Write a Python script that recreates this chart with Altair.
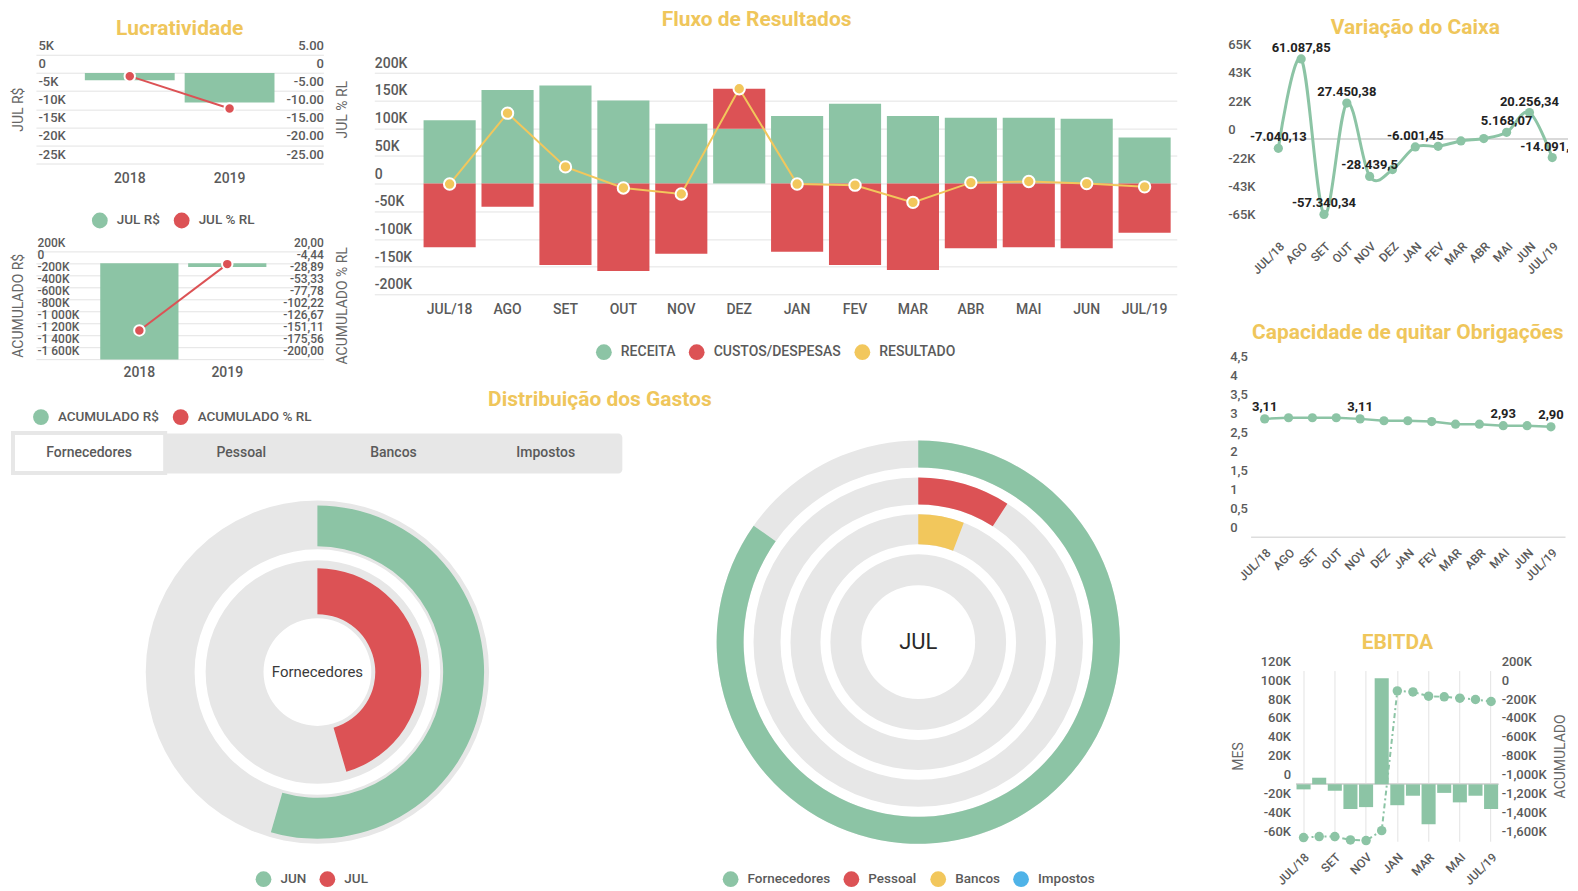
import altair as alt
import pandas as pd

# ---------------- dados ----------------
meses = ["JUL/18", "AGO", "SET", "OUT", "NOV", "DEZ", "JAN", "FEV", "MAR", "ABR", "MAI", "JUN", "JUL/19"]

# Fluxo de Resultados
fluxo_series = ["RECEITA", "CUSTOS/DESPESAS", "RESULTADO"]
receita = [114000, 169000, 177000, 150000, 108000, 99000, 122000, 144000, 122000, 118600, 118600, 116800, 83000]
custos = [-115000, -42000, -147000, -158000, -127000, 72000, -123000, -147000, -156000, -117000, -115000, -117000, -89000]
resultado = [-1000, 127000, 30000, -8000, -19000, 171000, -1000, -3000, -34000, 1600, 3600, -200, -6000]
fluxo_ticks = [200000, 150000, 100000, 50000, 0, -50000, -100000, -150000, -200000]

# Lucratividade
anos = ["2018", "2019"]
lucr_series = ["JUL R$", "JUL % RL"]
jul_rs = [-2000, -8200]
jul_pct = [-0.9, -9.8]
lucr_ticks_rs = [5000, 0, -5000, -10000, -15000, -20000, -25000]
lucr_ticks_pct = [5, 0, -5, -10, -15, -20, -25]

acum_series = ["ACUMULADO R$", "ACUMULADO % RL"]
acum_rs = [-1604000, -60000]
acum_pct = [-141.4, -6.0]
acum_ticks_rs = [200000, 0, -200000, -400000, -600000, -800000, -1000000, -1200000, -1400000, -1600000]
acum_ticks_pct = [20.0, -4.4444, -28.8889, -53.3333, -77.7778, -102.2222, -126.6667, -151.1111, -175.5556, -200.0]

# Variação do Caixa
caixa = [-7040.13, 61087.85, -57340.34, 27450.38, -28439.50, -23200, -6001.45, -5500, -1400, 400, 5168.07, 20256.34, -14091.62]
caixa_rotulos = [True, True, True, True, True, False, True, False, False, False, True, True, True]
caixa_ticks = [65000, 43333.33, 21666.67, 0, -21666.67, -43333.33, -65000]

# Capacidade de quitar Obrigações
capacidade = [3.11, 3.14, 3.14, 3.14, 3.11, 3.06, 3.06, 3.04, 2.97, 2.97, 2.93, 2.93, 2.90]
cap_rotulos = [True, False, False, False, True, False, False, False, False, False, True, False, True]
cap_ticks = [0, 0.5, 1, 1.5, 2, 2.5, 3, 3.5, 4, 4.5]

# EBITDA
ebitda_mes = [-5300, 7000, -6700, -26000, -24000, 112000, -22000, -12000, -42000, -9000, -19000, -12000, -26000]
ebitda_acum = [-1561000, -1551000, -1551000, -1586000, -1593000, -1488000, -14000, -25000, -70000, -77000, -91000, -105000, -126000]
ebitda_ticks_mes = [120000, 100000, 80000, 60000, 40000, 20000, 0, -20000, -40000, -60000]
ebitda_ticks_acum = [200000, 0, -200000, -400000, -600000, -800000, -1000000, -1200000, -1400000, -1600000]
ebitda_meses_eixo = ["JUL/18", "SET", "NOV", "JAN", "MAR", "MAI", "JUL/19"]

# Distribuição dos Gastos
abas = ["Fornecedores", "Pessoal", "Bancos", "Impostos"]
aba_ativa = "Fornecedores"
forn_meses = ["JUN", "JUL"]
forn_pct = [54.5, 45.5]
mes_ref = "JUL"
dist_cat = ["Fornecedores", "Pessoal", "Bancos", "Impostos"]
dist_pct = [84.8, 9.1, 5.8, 0.0]

# ---------------- estilo ----------------
VERDE = "#8CC4A5"
VERMELHO = "#DC5255"
AMARELO = "#F2C75C"
AZUL = "#4FB3E8"
OURO = "#EFC65B"
TRILHA = "#E7E7E7"
GRADE = "#E3E3E3"
TXT = "#5A5A5A"
FONTE = "Roboto"
LOFF = -2.5  # rótulos do eixo y um pouco acima da linha

K_EXPR = "datum.value == 0 ? '0' : toString(round(datum.value / 1000)) + 'K'"
LUCR_PCT_EXPR = "datum.value == 0 ? '0' : (datum.value < 0 ? '-' : '') + format(abs(datum.value), '.2f')"
ACUM_RS_EXPR = "datum.value == 0 ? '0' : (datum.value < 0 ? '-' : '') + replace(format(abs(datum.value) / 1000, ',.0f'), ',', ' ') + 'K'"
ACUM_PCT_EXPR = "(datum.value < 0 ? '-' : '') + replace(format(abs(datum.value), '.2f'), '.', ',')"
EB_ACUM_EXPR = "datum.value == 0 ? '0' : (datum.value < 0 ? '-' : '') + format(abs(datum.value) / 1000, ',.0f') + 'K'"
CAP_EXPR = "replace(toString(datum.value), '.', ',')"


def br(v, casas=2, enxuto=False):
    s = f"{v:,.{casas}f}".replace(",", "#").replace(".", ",").replace("#", ".")
    if enxuto:
        s = s.rstrip("0").rstrip(",")
    return s


def legenda(lx, ly, fs=13.5):
    return alt.Legend(orient="none", legendX=lx, legendY=ly, direction="horizontal", title=None,
                      symbolType="circle", symbolSize=250, symbolStrokeWidth=0, labelFont=FONTE,
                      labelFontSize=fs, labelFontWeight=500, labelColor=TXT, columnPadding=13,
                      labelOffset=9, padding=0)


def titulo(txt, offset, dx=0):
    return alt.Title(txt, font=FONTE, fontSize=21, fontWeight="bold", color=OURO,
                     anchor="middle", offset=offset, dx=dx)


# ---------------- Lucratividade ----------------
dfA = pd.DataFrame({"ano": anos, "rs": jul_rs, "pct": jul_pct,
                    "s_rs": lucr_series[0], "s_pct": lucr_series[1]})
corA = alt.Scale(domain=lucr_series, range=[VERDE, VERMELHO])
xA = alt.X("ano:N", sort=anos, scale=alt.Scale(paddingInner=0.1, paddingOuter=0.49),
           axis=alt.Axis(title=None, labelAngle=0, labelPadding=8, labelFontSize=14))
yA1 = alt.Y("rs:Q", scale=alt.Scale(domain=[-25000, 5000], nice=False, zero=False),
            axis=alt.Axis(values=lucr_ticks_rs, labelExpr=K_EXPR, orient="left", labelAlign="left",
                          labelPadding=-2, labelBaseline="bottom", labelOffset=LOFF, labelOverlap=False,
                          grid=True, gridColor=GRADE,
                          title="JUL R$", titleX=-17, titleAngle=270, titleBaseline="middle"))
yA2 = alt.Y("pct:Q", scale=alt.Scale(domain=[-25, 5], nice=False, zero=False),
            axis=alt.Axis(values=lucr_ticks_pct, labelExpr=LUCR_PCT_EXPR, orient="right", labelAlign="right",
                          labelPadding=0, labelBaseline="bottom", labelOffset=LOFF, labelOverlap=False,
                          title="JUL % RL", titleX=19, titleAngle=270, titleBaseline="middle"))
legA = legenda(56, 158)
barsA = alt.Chart(dfA).mark_bar().encode(x=xA, y=yA1, color=alt.Color("s_rs:N", scale=corA, legend=legA))
lineA = alt.Chart(dfA).mark_line(color=VERMELHO, strokeWidth=2).encode(x=xA, y=yA2)
ptsA = alt.Chart(dfA).mark_point(filled=True, size=110, opacity=1, stroke="white", strokeWidth=2).encode(
    x=xA, y=yA2, color=alt.Color("s_pct:N", scale=corA, legend=legA))
A = alt.layer(barsA, alt.layer(lineA, ptsA)).resolve_scale(y="independent").properties(
    width=288, height=109, title=titulo("Lucratividade", 0))

# ---------------- Acumulado ----------------
dfB = pd.DataFrame({"ano": anos, "rs": acum_rs, "pct": acum_pct,
                    "s_rs": acum_series[0], "s_pct": acum_series[1]})
corB = alt.Scale(domain=acum_series, range=[VERDE, VERMELHO])
xB = alt.X("ano:N", sort=anos, scale=alt.Scale(paddingInner=0.11, paddingOuter=0.69, align=0.53),
           axis=alt.Axis(title=None, labelAngle=0, labelPadding=6, labelFontSize=14))
yB1 = alt.Y("rs:Q", scale=alt.Scale(domain=[-1600000, 200000], nice=False, zero=False),
            axis=alt.Axis(values=acum_ticks_rs, labelExpr=ACUM_RS_EXPR, orient="left", labelAlign="left",
                          labelPadding=-1, labelBaseline="bottom", labelOffset=-1.5, labelFontSize=12,
                          labelOverlap=False, grid=True, gridColor=GRADE,
                          title="ACUMULADO R$", titleX=-17, titleAngle=270, titleBaseline="middle"))
yB2 = alt.Y("pct:Q", scale=alt.Scale(domain=[-200, 20], nice=False, zero=False),
            axis=alt.Axis(values=acum_ticks_pct, labelExpr=ACUM_PCT_EXPR, orient="right", labelAlign="right",
                          labelPadding=0, labelBaseline="bottom", labelOffset=-1.5, labelFontSize=12,
                          labelOverlap=False, title="ACUMULADO % RL", titleX=19, titleAngle=270,
                          titleBaseline="middle"))
legB = legenda(-3, 158)
barsB = alt.Chart(dfB).mark_bar().encode(x=xB, y=yB1, color=alt.Color("s_rs:N", scale=corB, legend=legB))
lineB = alt.Chart(dfB).mark_line(color=VERMELHO, strokeWidth=2).encode(x=xB, y=yB2)
ptsB = alt.Chart(dfB).mark_point(filled=True, size=110, opacity=1, stroke="white", strokeWidth=2).encode(
    x=xB, y=yB2, color=alt.Color("s_pct:N", scale=corB, legend=legB))
B = alt.layer(barsB, alt.layer(lineB, ptsB)).resolve_scale(y="independent").properties(width=288, height=108)

# ---------------- Fluxo de Resultados ----------------
dfC = pd.DataFrame({"mes": meses * 2,
                    "tipo": [fluxo_series[0]] * len(meses) + [fluxo_series[1]] * len(meses),
                    "valor": receita + custos,
                    "ordem": [0] * len(meses) + [1] * len(meses)})
dfCr = pd.DataFrame({"mes": meses, "valor": resultado, "tipo": fluxo_series[2]})
corC = alt.Scale(domain=fluxo_series, range=[VERDE, VERMELHO, AMARELO])
xC = alt.X("mes:N", sort=meses, scale=alt.Scale(paddingInner=0.1, paddingOuter=0.478, align=0.89),
           axis=alt.Axis(title=None, labelAngle=0, labelPadding=8, labelFontSize=14))
eixoC = alt.Axis(values=fluxo_ticks, labelExpr=K_EXPR, labelAlign="left", labelPadding=0, labelFontSize=14,
                 labelBaseline="bottom", labelOffset=LOFF, labelOverlap=False, grid=True, gridColor=GRADE,
                 title=None)
escC = alt.Scale(domain=[-200000, 200000], nice=False)
legC = legenda(222, 272, 14)
barsC = alt.Chart(dfC).mark_bar().encode(
    x=xC, y=alt.Y("valor:Q", stack="zero", scale=escC, axis=eixoC),
    color=alt.Color("tipo:N", scale=corC, legend=legC), order=alt.Order("ordem:Q"))
lineC = alt.Chart(dfCr).mark_line(color=AMARELO, strokeWidth=2).encode(
    x=xC, y=alt.Y("valor:Q", scale=escC, axis=eixoC))
ptsC = alt.Chart(dfCr).mark_point(filled=True, size=130, opacity=1, stroke="white", strokeWidth=2).encode(
    x=xC, y=alt.Y("valor:Q", scale=escC, axis=eixoC), color=alt.Color("tipo:N", scale=corC, legend=legC))
C = alt.layer(barsC, lineC, ptsC).properties(width=804, height=222,
                                              title=titulo("Fluxo de Resultados", 26, dx=-19))

# ---------------- Abas ----------------
dfT = pd.DataFrame({"aba": abas, "ativa": [a == aba_ativa for a in abas]})
xT = alt.X("aba:N", sort=abas, scale=alt.Scale(paddingInner=0, paddingOuter=0), axis=None)
rectT = alt.Chart(dfT).transform_filter("datum.ativa").mark_rect(color="white", stroke=TRILHA,
                                                                  strokeWidth=4).encode(x=xT)
txtT = alt.Chart(dfT).mark_text(font=FONTE, fontSize=14, fontWeight=500, color=TXT).encode(x=xT, text="aba:N")
T = alt.layer(rectT, txtT).properties(width=610, height=40,
                                      view=alt.ViewBackground(fill=TRILHA, cornerRadius=4, stroke="transparent"))

# ---------------- Rosca Fornecedores ----------------
dfD = pd.DataFrame({"mes": forn_meses, "pct": forn_pct})
cheio = pd.DataFrame({"total": [100]})
thetaS = alt.Scale(domain=[0, 100])
corD = alt.Scale(domain=forn_meses, range=[VERDE, VERMELHO])
legD = legenda(243, 376)
trilhaO = alt.Chart(cheio).mark_arc(radius=172, radius2=123, color=TRILHA).encode(
    theta=alt.Theta("total:Q", scale=thetaS))
arcoJun = alt.Chart(dfD).transform_filter(alt.datum.mes == forn_meses[0]).mark_arc(radius=167, radius2=126).encode(
    theta=alt.Theta("pct:Q", scale=thetaS), color=alt.Color("mes:N", scale=corD, legend=legD))
trilhaI = alt.Chart(cheio).mark_arc(radius=112, radius2=54, color=TRILHA).encode(
    theta=alt.Theta("total:Q", scale=thetaS))
arcoJul = alt.Chart(dfD).transform_filter(alt.datum.mes == forn_meses[1]).mark_arc(radius=104, radius2=58).encode(
    theta=alt.Theta("pct:Q", scale=thetaS), color=alt.Color("mes:N", scale=corD, legend=legD))
txtD = alt.Chart(pd.DataFrame({"t": [aba_ativa]})).mark_text(font=FONTE, fontSize=15, color="#3A3A3A").encode(text="t:N")
D = alt.layer(trilhaO, arcoJun, trilhaI, arcoJul, txtD).properties(width=610, height=353)

# ---------------- Rosca JUL ----------------
dfE = pd.DataFrame({"cat": dist_cat, "pct": dist_pct})
corE = alt.Scale(domain=dist_cat, range=[VERDE, VERMELHO, AMARELO, AZUL])
legE = legenda(83, 432)
aneis = [(202, 175), (165, 138), (128, 98), (88, 57)]
camadasE = []
for cat, (ro, ri) in zip(dist_cat, aneis):
    camadasE.append(alt.Chart(cheio).mark_arc(radius=ro, radius2=ri, color=TRILHA).encode(
        theta=alt.Theta("total:Q", scale=thetaS)))
    camadasE.append(alt.Chart(dfE).transform_filter(alt.datum.cat == cat).mark_arc(radius=ro, radius2=ri).encode(
        theta=alt.Theta("pct:Q", scale=thetaS), color=alt.Color("cat:N", scale=corE, legend=legE)))
camadasE.append(alt.Chart(pd.DataFrame({"t": [mes_ref]})).mark_text(font=FONTE, fontSize=22, color="#2A2A2A").encode(text="t:N"))
E = alt.layer(*camadasE).properties(width=558, height=405,
                                    title=titulo("Distribuição dos Gastos", 30, dx=-319))

# ---------------- Variação do Caixa ----------------
dfF = pd.DataFrame({"mes": meses, "valor": caixa,
                    "rotulo": [br(v, 2, True) if m else "" for v, m in zip(caixa, caixa_rotulos)],
                    "borda": [m == meses[-1] for m in meses]})
xF = alt.X("mes:N", sort=meses, scale=alt.Scale(type="point", padding=0.69),
           axis=alt.Axis(title=None, labelAngle=315, labelPadding=16, labelFontSize=12))
eixoF = alt.Axis(values=caixa_ticks, labelExpr=K_EXPR, labelAlign="left", labelPadding=35,
                 labelBaseline="bottom", labelOffset=LOFF, labelOverlap=False, title=None)
escF = alt.Scale(domain=[-65000, 65000], nice=False)
yF = alt.Y("valor:Q", scale=escF, axis=eixoF)
zeroF = alt.Chart(dfF).mark_rule(color="#D8D8D8", strokeWidth=1.5).encode(
    y=alt.YDatum(0, scale=escF, axis=eixoF))
lineF = alt.Chart(dfF).mark_line(color=VERDE, strokeWidth=3, interpolate="cardinal").encode(x=xF, y=yF)
ptsF = alt.Chart(dfF).mark_circle(size=85, color=VERDE, opacity=1).encode(x=xF, y=yF)
txtF = alt.Chart(dfF).transform_filter("!datum.borda").mark_text(
    dy=-11, font=FONTE, fontSize=13, fontWeight="bold", color="#222222").encode(x=xF, y=yF, text="rotulo:N")
txtF2 = alt.Chart(dfF).transform_filter("datum.borda").mark_text(
    dy=-11, font=FONTE, fontSize=13, fontWeight="bold", color="#222222", clip=True).encode(x=xF, y=yF, text="rotulo:N")
F = alt.layer(zeroF, lineF, ptsF, txtF, txtF2).properties(width=306, height=171,
                                                          title=titulo("Variação do Caixa", 0))

# ---------------- Capacidade de quitar Obrigações ----------------
dfG = pd.DataFrame({"mes": meses, "valor": capacidade,
                    "rotulo": [br(v) if m else "" for v, m in zip(capacidade, cap_rotulos)]})
xG = alt.X("mes:N", sort=meses, scale=alt.Scale(type="point", padding=0.59),
           axis=alt.Axis(title=None, labelAngle=315, labelPadding=10, labelFontSize=12,
                         domain=True, domainColor="#DDDDDD", domainWidth=1.5))
yG = alt.Y("valor:Q", scale=alt.Scale(domain=[0, 4.5], nice=False),
           axis=alt.Axis(values=cap_ticks, labelExpr=CAP_EXPR, labelAlign="left", labelPadding=21,
                         labelBaseline="bottom", labelOffset=LOFF, labelOverlap=False, title=None))
lineG = alt.Chart(dfG).mark_line(color=VERDE, strokeWidth=2.5).encode(x=xG, y=yG)
ptsG = alt.Chart(dfG).mark_circle(size=85, color=VERDE, opacity=1).encode(x=xG, y=yG)
txtG = alt.Chart(dfG).mark_text(dy=-12, font=FONTE, fontSize=13, fontWeight="bold", color="#222222").encode(
    x=xG, y=yG, text="rotulo:N")
G = alt.layer(lineG, ptsG, txtG).properties(width=315, height=171,
                                            title=titulo("Capacidade de quitar Obrigações", 8))

# ---------------- EBITDA ----------------
dfH = pd.DataFrame({"mes": meses, "mes_v": ebitda_mes, "acum": ebitda_acum})
xH = alt.X("mes:N", sort=meses, scale=alt.Scale(paddingInner=0.1, paddingOuter=0),
           axis=alt.Axis(values=ebitda_meses_eixo, title=None, labelAngle=315, labelPadding=10, labelFontSize=12,
                         grid=True, gridColor=GRADE, bandPosition=0.5))
eixoH1 = alt.Axis(values=ebitda_ticks_mes, labelExpr=K_EXPR, labelPadding=6, labelBaseline="bottom",
                  labelOffset=LOFF, labelOverlap=False, title="MES", titleX=-58, titleAngle=270,
                  titleBaseline="middle")
escH1 = alt.Scale(domain=[-60000, 120000], nice=False)
yH1 = alt.Y("mes_v:Q", scale=escH1, axis=eixoH1)
yH2 = alt.Y("acum:Q", scale=alt.Scale(domain=[-1600000, 200000], nice=False),
            axis=alt.Axis(values=ebitda_ticks_acum, labelExpr=EB_ACUM_EXPR, orient="right", labelAlign="left",
                          labelPadding=3, labelBaseline="bottom", labelOffset=LOFF, labelOverlap=False,
                          title="ACUMULADO", titleX=62, titleAngle=270, titleBaseline="middle"))
zeroH = alt.Chart(dfH).mark_rule(color="#D8D8D8", strokeWidth=1.5).encode(
    y=alt.YDatum(0, scale=escH1, axis=eixoH1))
barsH = alt.Chart(dfH).mark_bar(color=VERDE).encode(x=xH, y=yH1)
lineH = alt.Chart(dfH).mark_line(color=VERDE, strokeWidth=2, strokeDash=[5, 3, 2, 3]).encode(x=xH, y=yH2)
ptsH = alt.Chart(dfH).mark_circle(size=90, color=VERDE, opacity=1).encode(x=xH, y=yH2)
H = alt.layer(alt.layer(zeroH, barsH), alt.layer(lineH, ptsH)).resolve_scale(y="independent").properties(
    width=202, height=171, title=titulo("EBITDA", 2))


# ---------------- composição ----------------
# Em "flush", um concat aninhado ocupa tamanho zero: cada painel é posicionado por espaçadores.
def sp(w, h):
    return alt.Chart(pd.DataFrame({"v": [0]})).mark_point(size=0, opacity=0).encode(
        x=alt.value(0), y=alt.value(0)).properties(width=w, height=h)


def res(c):
    return c.resolve_scale(color="independent", theta="independent")


def posicionar(painel, x, y):
    linha = res(alt.hconcat(sp(x, 1), painel, spacing=0, bounds="flush"))
    return res(alt.vconcat(sp(1, y), linha, spacing=0, bounds="flush"))


paineis = [
    posicionar(A, 27, 45),
    posicionar(B, 27, 242),
    posicionar(C, 366, 63),
    posicionar(T, 4, 424),
    posicionar(D, 4, 487),
    posicionar(E, 632, 431),
    posicionar(F, 1256, 44),
    posicionar(G, 1244, 357),
    posicionar(H, 1290, 662),
]

chart = res(alt.vconcat(*paineis, spacing=0, bounds="flush")).properties(padding=0).configure(
    font=FONTE).configure_view(stroke="transparent").configure_axis(
    labelFont=FONTE, labelFontSize=13, labelFontWeight=500, labelColor=TXT, labelOverlap=False,
    titleFont=FONTE, titleFontSize=14, titleFontWeight="normal", titleColor="#666666",
    domain=False, ticks=False, grid=False)

chart.save("out.html", embed_options={"renderer": "svg", "actions": False})
